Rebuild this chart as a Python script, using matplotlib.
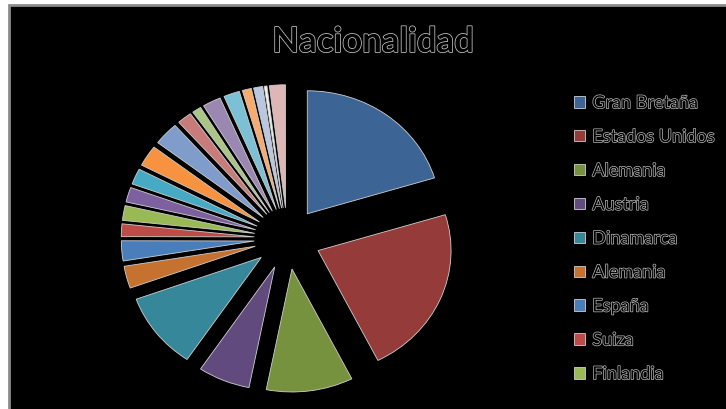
import matplotlib
matplotlib.use("Agg")
from matplotlib import pyplot as plt
from matplotlib.patches import Rectangle
import matplotlib.patheffects as pe

# slice values (clockwise from 12 o'clock)
valores = [73.2, 80.4, 38.0, 22.8, 36.3, 10.5, 9.5, 6.0, 7.0, 7.0, 7.5, 10.0,
           11.0, 6.4, 4.0, 8.0, 7.0, 4.0, 4.0, 1.2, 7.0]
# only the first nine show up in the legend
paises = ["Gran Bretaña", "Estados Unidos", "Alemania", "Austria", "Dinamarca",
          "Alemania", "España", "Suiza", "Finlandia"]
colores = ["#3c6596", "#953b39", "#77923e", "#614b7e", "#36879a", "#c5712f",
           "#4a7ebb", "#be4b48", "#98b954", "#7d60a0", "#46aac5", "#f69240",
           "#7f9ccb", "#c87b79", "#aac584", "#9a88b3", "#7cc0d6", "#f9ab6d",
           "#b9c7e1", "#f2f2f2", "#ddb6b5"]

W, H = 726, 409
fig = plt.figure(figsize=(W / 100, H / 100), dpi=100)
fig.patch.set_facecolor("white")
fig.patches.append(Rectangle((8.5 / W, -0.02), 1.0, 1 - 5 / H + 0.02,
                             transform=fig.transFigure, facecolor="black",
                             edgecolor="#8c8c8c", linewidth=2, zorder=-5))

# pie centre ~ (287.5, 238.5) px; x scale 133 px/unit, y scale 123 px/unit
cx, cy = 287.5, H - 238.5
sx, sy = 133, 123
xl, yl = 1.5, 1.3
ax = fig.add_axes([(cx - xl * sx) / W, (cy - yl * sy) / H,
                   2 * xl * sx / W, 2 * yl * sy / H], zorder=2)
ax.set_facecolor("none")
wedges, _ = ax.pie(valores, colors=colores, startangle=90, counterclock=False,
                   explode=[0.25] * len(valores),
                   wedgeprops=dict(edgecolor="#cfcfcf", linewidth=0.6))
ax.set_aspect("auto")
ax.set_xlim(-xl, xl)
ax.set_ylim(-yl, yl)
ax.axis("off")

fig.text(373 / W, 1 - 42 / H, "Nacionalidad", ha="center", va="center",
         fontsize=25, fontweight="bold", family="Lato", color="black",
         path_effects=[pe.withStroke(linewidth=1.1, foreground="#c8c8c8")],
         zorder=3)

leg = fig.legend(wedges[:9], paises, loc="upper left",
                 bbox_to_anchor=(558 / W, 1 - 79 / H), frameon=False,
                 handlelength=0.6, handleheight=0.6, handletextpad=0.4,
                 labelspacing=0.99, prop=dict(family="Lato", size=13))
leg.set_zorder(3)
for t in leg.get_texts():
    t.set_color("black")
    t.set_path_effects([pe.withStroke(linewidth=1.0, foreground="#bdbdbd")])

fig.savefig("out.png", dpi=100, facecolor=fig.get_facecolor())
